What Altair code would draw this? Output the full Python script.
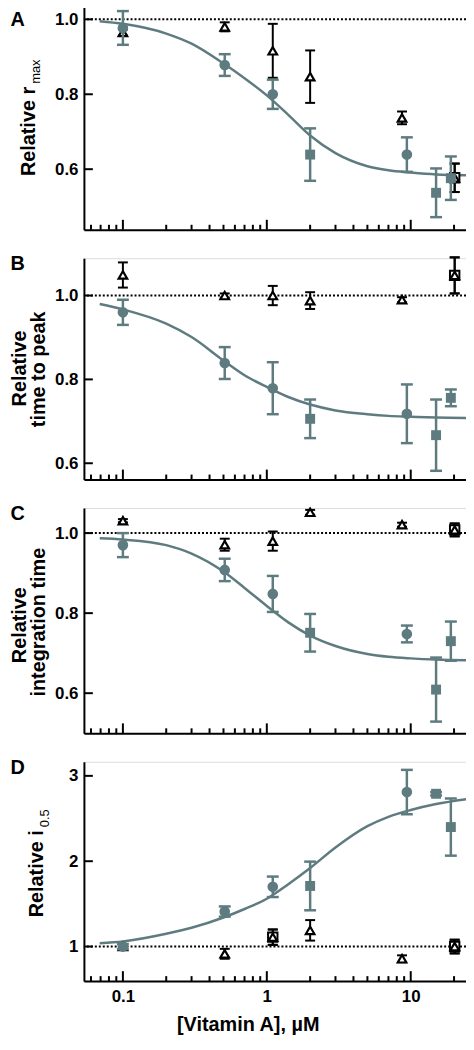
import altair as alt
import pandas as pd

GRAY = "#5e7c80"
FONT = "Liberation Sans"

# ---------------- data ----------------
circ_x = [0.1, 0.51, 1.1, 9.4]
sq_x = [2.0, 15.0, 19.0]
tri_x = [0.1, 0.51, 1.1, 2.0, 8.7, 20.2]
curve_x = [0.069, 0.1, 0.2, 0.3, 0.5, 0.7, 1.0, 1.41, 2.0, 3.0, 5.0, 7.0, 10.0, 15.0, 25.0]

x_major = [0.1, 1, 10]
x_minor = [0.06, 0.07, 0.08, 0.09, 0.2, 0.3, 0.4, 0.5, 0.6, 0.7, 0.8, 0.9,
           2, 3, 4, 5, 6, 7, 8, 9, 20]

# Panel A : Relative r_max
A_circ_y = [0.977, 0.878, 0.800, 0.639]
A_circ_e = [0.045, 0.029, 0.039, 0.046]
A_sq_y = [0.639, 0.537, 0.576]
A_sq_e = [0.070, 0.065, 0.058]
A_tri_y = [0.965, 0.980, 0.916, 0.847, 0.737, 0.577]
A_tri_e = [0.008, 0.012, 0.072, 0.070, 0.017, 0.038]
A_bsq_x = [20.2]
A_bsq_y = [0.577]
A_bsq_e = [0.038]
A_curve_y = [0.995, 0.988, 0.962, 0.935, 0.882, 0.843, 0.797, 0.745, 0.690,
             0.643, 0.608, 0.597, 0.591, 0.586, 0.584]

# Panel B : Relative time to peak
B_circ_y = [0.960, 0.839, 0.779, 0.718]
B_circ_e = [0.030, 0.038, 0.062, 0.070]
B_sq_y = [0.706, 0.667, 0.756]
B_sq_e = [0.046, 0.085, 0.020]
B_tri_y = [1.049, 1.000, 1.000, 0.988, 0.990, 1.048]
B_tri_e = [0.030, 0.005, 0.023, 0.020, 0.006, 0.043]
B_bsq_x = [20.2]
B_bsq_y = [1.048]
B_bsq_e = [0.043]
B_curve_y = [0.980, 0.967, 0.933, 0.901, 0.845, 0.810, 0.782, 0.758, 0.740,
             0.726, 0.717, 0.713, 0.711, 0.709, 0.708]

# Panel C : Relative integration time
C_circ_y = [0.970, 0.908, 0.848, 0.748]
C_circ_e = [0.030, 0.028, 0.045, 0.021]
C_sq_y = [0.751, 0.609, 0.730]
C_sq_e = [0.047, 0.080, 0.049]
C_tri_y = [1.031, 0.971, 0.980, 1.052, 1.021, 1.008]
C_tri_e = [0.004, 0.015, 0.024, 0.006, 0.005, 0.016]
C_bsq_x = [20.2]
C_bsq_y = [1.008]
C_bsq_e = [0.016]
C_curve_y = [0.987, 0.984, 0.970, 0.949, 0.904, 0.863, 0.818, 0.777, 0.744,
             0.718, 0.698, 0.691, 0.687, 0.684, 0.682]

# Panel D : Relative i_0.5
D_circ_y = [1.00, 1.41, 1.70, 2.81]
D_circ_e = [0.03, 0.06, 0.12, 0.26]
D_sq_y = [1.71, 2.79, 2.40]
D_sq_e = [0.285, 0.02, 0.335]
D_tri_y = [1.00, 0.915, 1.11, 1.19, 0.857, 1.00]
D_tri_e = [0.03, 0.058, 0.09, 0.12, 0.04, 0.08]
D_bsq_x = [1.1, 20.2]
D_bsq_y = [1.11, 1.00]
D_bsq_e = [0.09, 0.08]
D_curve_y = [1.04, 1.06, 1.15, 1.22, 1.34, 1.44, 1.56, 1.73, 1.92, 2.16, 2.41,
             2.52, 2.60, 2.67, 2.73]

W = 389
X_DOMAIN = [0.0536, 25.8]


def err_df(xs, ys, es):
    return pd.DataFrame({"x": xs, "y": ys,
                         "lo": [y - e for y, e in zip(ys, es)],
                         "hi": [y + e for y, e in zip(ys, es)]})


def one():
    return alt.Chart(pd.DataFrame({"k": [0]}))


def panel(letter, letter_y, height, ydom, yticks, yfmt,
          circ_y, circ_e, sq_y, sq_e, tri_y, tri_e, bsq_x, bsq_y, bsq_e,
          curve_y, titles, last=False):
    xs = alt.Scale(type="log", domain=X_DOMAIN, nice=False)
    ys = alt.Scale(domain=ydom, nice=False, zero=False)
    xaxis = alt.Axis(values=x_major, format=".1~f", labels=last, ticks=False,
                     tickSize=0, grid=False, domainWidth=2, domainColor="black",
                     labelFont=FONT, labelFontSize=17, labelFontWeight="bold",
                     labelColor="black", labelPadding=8,
                     title="[Vitamin A], µM" if last else None,
                     titleFont=FONT, titleFontSize=20, titleFontWeight="bold",
                     titleColor="black", titlePadding=10,
                     titleX=165, titleAlign="center")
    yaxis = alt.Axis(values=yticks, format=yfmt, ticks=False, tickSize=0,
                     grid=False, domainWidth=2, domainColor="black",
                     labelFont=FONT, labelFontSize=17, labelFontWeight="bold",
                     labelColor="black", labelPadding=6, title=None)

    X = lambda f="x": alt.X(f + ":Q", scale=xs, axis=xaxis)
    Y = lambda f="y": alt.Y(f + ":Q", scale=ys, axis=yaxis)

    ref = alt.Chart(pd.DataFrame({"y": [1.0]})).mark_rule(
        color="black", strokeWidth=2, strokeDash=[2, 2]
    ).encode(y=Y())

    curve = alt.Chart(pd.DataFrame({"x": curve_x, "y": curve_y})).mark_line(
        color=GRAY, strokeWidth=2.5, interpolate="monotone"
    ).encode(x=X(), y=Y())

    layers = [ref, curve]

    # black control series (open squares, triangles)
    bsq = err_df(bsq_x, bsq_y, bsq_e)
    tri = err_df(tri_x, tri_y, tri_e)
    for d in (bsq, tri):
        layers.append(alt.Chart(d).mark_rule(color="black", strokeWidth=2)
                      .encode(x=X(), y=Y("lo"), y2="hi"))
        for f in ("lo", "hi"):
            layers.append(alt.Chart(d).mark_tick(color="black", orient="horizontal",
                                                 size=10, thickness=2, opacity=1)
                          .encode(x=X(), y=Y(f)))
    layers.append(alt.Chart(bsq).mark_point(shape="square", size=90, filled=True,
                                            fill="white", stroke="black",
                                            strokeWidth=2, opacity=1)
                  .encode(x=X(), y=Y()))
    layers.append(alt.Chart(tri).mark_point(shape="triangle-up", size=75,
                                            filled=True, fill="white",
                                            stroke="black", strokeWidth=2.2,
                                            opacity=1)
                  .encode(x=X(), y=Y()))

    # gray experimental series (circles, squares)
    circ = err_df(circ_x, circ_y, circ_e)
    sq = err_df(sq_x, sq_y, sq_e)
    for d in (circ, sq):
        layers.append(alt.Chart(d).mark_rule(color=GRAY, strokeWidth=2.5)
                      .encode(x=X(), y=Y("lo"), y2="hi"))
        for f in ("lo", "hi"):
            layers.append(alt.Chart(d).mark_tick(color=GRAY, orient="horizontal",
                                                 size=12, thickness=2.5, opacity=1)
                          .encode(x=X(), y=Y(f)))
    layers.append(alt.Chart(circ).mark_point(shape="circle", size=115, filled=True,
                                             color=GRAY, opacity=1)
                  .encode(x=X(), y=Y()))
    layers.append(alt.Chart(sq).mark_point(shape="square", size=100, filled=True,
                                           color=GRAY, opacity=1)
                  .encode(x=X(), y=Y()))

    # inward ticks
    layers.append(alt.Chart(pd.DataFrame({"x": x_major})).mark_rule(
        color="black", strokeWidth=2).encode(
        x=X(), y=alt.value(height), y2=alt.value(height - 10)))
    layers.append(alt.Chart(pd.DataFrame({"x": x_minor})).mark_rule(
        color="black", strokeWidth=2).encode(
        x=X(), y=alt.value(height), y2=alt.value(height - 5)))
    layers.append(alt.Chart(pd.DataFrame({"y": yticks})).mark_rule(
        color="black", strokeWidth=2).encode(
        y=Y(), x=alt.value(0), x2=alt.value(9)))

    # invisible left guide so the layout's left edge is fixed
    layers.append(one().mark_rule(strokeWidth=1, opacity=0).encode(
        x=alt.value(-82), y=alt.value(40), y2=alt.value(41)))

    # panel letter
    layers.append(one().mark_text(font=FONT, fontSize=20, fontWeight="bold",
                                  align="left", baseline="middle", color="black")
                  .encode(x=alt.value(-74), y=alt.value(letter_y),
                          text=alt.value(letter)))
    # y titles
    for t in titles:
        kw = dict(font=FONT, fontSize=t.get("size", 20),
                  fontWeight=t.get("weight", "bold"), angle=270,
                  align=t["align"], baseline="middle", color="black")
        layers.append(one().mark_text(**kw).encode(
            x=alt.value(t["x"]), y=alt.value(t["y"]), text=alt.value(t["text"])))

    return alt.layer(*layers).properties(width=W, height=height)


pA = panel("A", 16, 227, [0.4384, 1.0397], [0.6, 0.8, 1.0], ".1f",
           A_circ_y, A_circ_e, A_sq_y, A_sq_e, A_tri_y, A_tri_e,
           A_bsq_x, A_bsq_y, A_bsq_e, A_curve_y,
           [dict(text="Relative r", x=-55, y=83, align="right"),
            dict(text="max", x=-48, y=80, align="left", size=13, weight="normal")])
pB = panel("B", 6, 223, [0.5612, 1.089], [0.6, 0.8, 1.0], ".1f",
           B_circ_y, B_circ_e, B_sq_y, B_sq_e, B_tri_y, B_tri_e,
           B_bsq_x, B_bsq_y, B_bsq_e, B_curve_y,
           [dict(text="Relative", x=-64, y=111, align="center"),
            dict(text="time to peak", x=-45, y=112, align="center")])
pC = panel("C", 6, 227, [0.4998, 1.0627], [0.6, 0.8, 1.0], ".1f",
           C_circ_y, C_circ_e, C_sq_y, C_sq_e, C_tri_y, C_tri_e,
           C_bsq_x, C_bsq_y, C_bsq_e, C_curve_y,
           [dict(text="Relative", x=-64, y=118, align="center"),
            dict(text="integration time", x=-45, y=115, align="center")])
pD = panel("D", 6, 221, [0.5953, 3.165], [1, 2, 3], "d",
           D_circ_y, D_circ_e, D_sq_y, D_sq_e, D_tri_y, D_tri_e,
           D_bsq_x, D_bsq_y, D_bsq_e, D_curve_y,
           [dict(text="Relative i", x=-47, y=69, align="right"),
            dict(text="0.5", x=-39, y=66, align="left", size=13, weight="normal")],
           last=True)

chart = alt.vconcat(pA, pB, pC, pD, spacing=28.7, bounds="flush").properties(
    padding={"left": -6.5, "top": -8.5, "right": -8, "bottom": -2}
).configure_view(stroke=None).configure(background="white")

chart.save("out.html", embed_options={"renderer": "svg", "actions": False})
